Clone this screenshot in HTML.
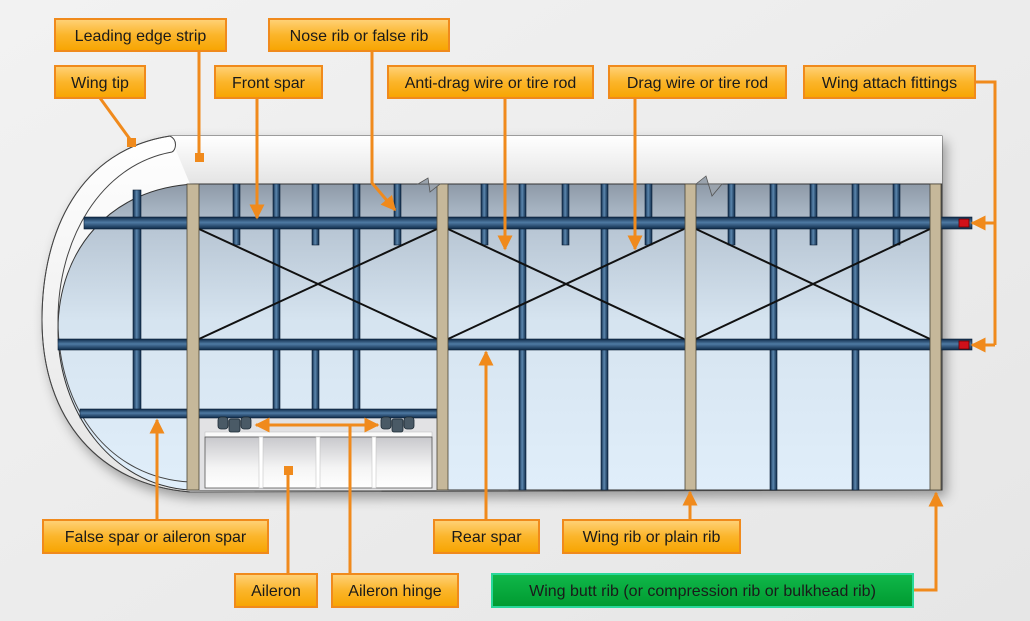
<!DOCTYPE html>
<html><head><meta charset="utf-8"><style>
html,body{margin:0;padding:0;background:#ececec;}
svg{display:block}
text{font-family:"Liberation Sans",Arial,sans-serif;font-size:16px;fill:#1a1a1a}
</style></head><body>
<svg width="1030" height="621" viewBox="0 0 1030 621" xmlns="http://www.w3.org/2000/svg">
<defs>
<linearGradient id="bg" x1="0" y1="0" x2="1" y2="1"><stop offset="0" stop-color="#f2f2f2"/><stop offset="1" stop-color="#e6e6e6"/></linearGradient>
<linearGradient id="sky" x1="0" y1="0" x2="0" y2="1"><stop offset="0" stop-color="#8e9aa8"/><stop offset="0.15" stop-color="#b8c6d4"/><stop offset="0.45" stop-color="#d6e4f0"/><stop offset="1" stop-color="#e0eefa"/></linearGradient>
<linearGradient id="skin" x1="0" y1="0" x2="0" y2="1"><stop offset="0" stop-color="#ffffff"/><stop offset="1" stop-color="#e4e4e4"/></linearGradient>
<linearGradient id="hsp" x1="0" y1="0" x2="0" y2="1"><stop offset="0" stop-color="#0e2a48"/><stop offset="0.45" stop-color="#4f7aa3"/><stop offset="1" stop-color="#0e2a48"/></linearGradient>
<linearGradient id="vsp" x1="0" y1="0" x2="1" y2="0"><stop offset="0" stop-color="#0e2a48"/><stop offset="0.45" stop-color="#5b86ae"/><stop offset="1" stop-color="#0e2a48"/></linearGradient>
<linearGradient id="ob" x1="0" y1="0" x2="0" y2="1"><stop offset="0" stop-color="#ffd27a"/><stop offset="0.5" stop-color="#fbb52a"/><stop offset="1" stop-color="#f7a400"/></linearGradient>
<linearGradient id="gb" x1="0" y1="0" x2="0" y2="1"><stop offset="0" stop-color="#10b84a"/><stop offset="1" stop-color="#009a30"/></linearGradient>
<linearGradient id="ail" x1="0" y1="0" x2="0" y2="1"><stop offset="0" stop-color="#c8c8cc"/><stop offset="0.6" stop-color="#f4f4f4"/><stop offset="1" stop-color="#ffffff"/></linearGradient>
<marker id="ar" viewBox="0 0 10 10" refX="9" refY="5" markerWidth="5" markerHeight="5" orient="auto"><path d="M0,0 L10,5 L0,10 z" fill="#f08a1c"/></marker>
<filter id="sh" x="-5%" y="-5%" width="115%" height="115%"><feGaussianBlur in="SourceAlpha" stdDeviation="6"/><feOffset dx="4" dy="6"/><feComponentTransfer><feFuncA type="linear" slope="0.35"/></feComponentTransfer><feMerge><feMergeNode/><feMergeNode in="SourceGraphic"/></feMerge></filter>
</defs>
<rect width="1030" height="621" fill="url(#bg)"/>

<!-- wing body -->
<g filter="url(#sh)">
<path d="M170,136 L942,136 L942,490 L190,492 C100,485 42,420 42,320 C42,230 80,150 170,136 Z" fill="url(#skin)" stroke="#555" stroke-width="1"/>
</g>
<path d="M170,136 L942,136 L942,184 L190,184 Z" fill="url(#skin)"/>
<path d="M195,184 L942,184 L942,490 L190,490 C110,485 58,410 58,330 C58,250 110,188 195,184 Z" fill="url(#sky)" stroke="#333" stroke-width="1"/>
<!-- tip strip lines -->
<path d="M170,136 C80,150 42,230 42,320 C42,420 100,485 190,492" fill="none" stroke="#444" stroke-width="1"/>
<path d="M172,152 C100,165 58,240 58,320 C58,410 110,478 190,482" fill="none" stroke="#444" stroke-width="1"/>
<path d="M170,136 C178,140 176,150 172,152" fill="none" stroke="#444" stroke-width="1"/>
<!-- aileron cutout area -->
<rect x="199" y="418" width="238" height="72" fill="#e2e2e4"/>

<!-- vertical blue ribs -->
<g fill="url(#vsp)" stroke="#0a1f36" stroke-width="0.6">
<rect x="133" y="190" width="8" height="222"/>
<rect x="233" y="184" width="7" height="61"/>
<rect x="273" y="184" width="7" height="230"/>
<rect x="312" y="184" width="7" height="61"/>
<rect x="312" y="350" width="7" height="62"/>
<rect x="353" y="184" width="7" height="230"/>
<rect x="394" y="184" width="7" height="61"/>
<rect x="481" y="184" width="7" height="61"/>
<rect x="519" y="184" width="7" height="306"/>
<rect x="562" y="184" width="7" height="61"/>
<rect x="601" y="184" width="7" height="306"/>
<rect x="645" y="184" width="7" height="61"/>
<rect x="728" y="184" width="7" height="61"/>
<rect x="770" y="184" width="7" height="306"/>
<rect x="810" y="184" width="7" height="61"/>
<rect x="852" y="184" width="7" height="306"/>
<rect x="893" y="184" width="7" height="61"/>
</g>
<!-- horizontal spars -->
<g fill="url(#hsp)" stroke="#0a1f36" stroke-width="0.6">
<rect x="84" y="217" width="888" height="12"/>
<rect x="58" y="339" width="914" height="11"/>
<rect x="80" y="409" width="357" height="9"/>
</g>
<rect x="959" y="219" width="10" height="8" fill="#d0101a" stroke="#600" stroke-width="0.8"/>
<rect x="959" y="341" width="10" height="8" fill="#d0101a" stroke="#600" stroke-width="0.8"/>
<!-- wires -->
<g stroke="#111" stroke-width="2">
<line x1="199" y1="229" x2="437" y2="339"/><line x1="199" y1="339" x2="437" y2="229"/>
<line x1="448" y1="229" x2="684" y2="339"/><line x1="448" y1="339" x2="684" y2="229"/>
<line x1="696" y1="229" x2="930" y2="339"/><line x1="696" y1="339" x2="930" y2="229"/>
</g>
<!-- tan ribs -->
<g fill="#c6b89a" stroke="#4a4436" stroke-width="0.8">
<rect x="187" y="184" width="12" height="306"/>
<rect x="437" y="184" width="11" height="306"/>
<rect x="685" y="184" width="11" height="306"/>
<rect x="930" y="184" width="11" height="306"/>
</g>
<!-- break notches -->
<path d="M418,184 L428,178 L430,192 L440,184 Z" fill="#9aa3ad" stroke="#555" stroke-width="0.8"/>
<path d="M696,184 L706,176 L712,196 L722,184 Z" fill="#9aa3ad" stroke="#555" stroke-width="0.8"/>

<!-- aileron -->
<rect x="205" y="432" width="227" height="5" fill="#fafafa" stroke="#bbb" stroke-width="0.5"/>
<rect x="205" y="437" width="227" height="51" fill="url(#ail)" stroke="#555" stroke-width="0.8"/>
<g fill="#fff" stroke="#bbb" stroke-width="0.5">
<rect x="259" y="437" width="4" height="51"/><rect x="316" y="437" width="4" height="51"/><rect x="372" y="437" width="4" height="51"/>
</g>
<g fill="#4a5a66" stroke="#1c2a34" stroke-width="0.8">
<rect x="218" y="417" width="10" height="12" rx="3"/><rect x="229" y="419" width="11" height="13" rx="2"/><rect x="241" y="417" width="10" height="12" rx="3"/>
<rect x="381" y="417" width="10" height="12" rx="3"/><rect x="392" y="419" width="11" height="13" rx="2"/><rect x="404" y="417" width="10" height="12" rx="3"/>
</g>

<!-- connectors -->
<g stroke="#f08a1c" stroke-width="3" fill="none">
<line x1="100" y1="98" x2="132" y2="142"/>
<line x1="199" y1="51" x2="199" y2="156"/>
<polyline points="372,51 372,183 395,210" marker-end="url(#ar)"/>
<line x1="257" y1="98" x2="257" y2="218" marker-end="url(#ar)"/>
<line x1="505" y1="98" x2="505" y2="249" marker-end="url(#ar)"/>
<line x1="635" y1="98" x2="635" y2="249" marker-end="url(#ar)"/>
<polyline points="975,82 995,82 995,345"/>
<line x1="995" y1="223" x2="972" y2="223" marker-end="url(#ar)"/>
<line x1="995" y1="345" x2="972" y2="345" marker-end="url(#ar)"/>
<line x1="157" y1="519" x2="157" y2="420" marker-end="url(#ar)"/>
<line x1="486" y1="519" x2="486" y2="352" marker-end="url(#ar)"/>
<line x1="690" y1="519" x2="690" y2="492" marker-end="url(#ar)"/>
<line x1="288" y1="573" x2="288" y2="472"/>
<line x1="350" y1="573" x2="350" y2="425"/>
<line x1="350" y1="425" x2="256" y2="425" marker-end="url(#ar)"/>
<line x1="350" y1="425" x2="378" y2="425" marker-end="url(#ar)"/>
<polyline points="913,590 936,590 936,493" marker-end="url(#ar)"/>
</g>
<g fill="#f08a1c">
<rect x="127" y="138" width="9" height="9"/>
<rect x="195" y="153" width="9" height="9"/>
<rect x="284" y="466" width="9" height="9"/>
</g>

<!-- labels -->
<g stroke="#f08a1c" stroke-width="2" fill="url(#ob)">
<rect x="55" y="19" width="171" height="32"/>
<rect x="55" y="66" width="90" height="32"/>
<rect x="269" y="19" width="180" height="32"/>
<rect x="215" y="66" width="107" height="32"/>
<rect x="388" y="66" width="205" height="32"/>
<rect x="609" y="66" width="177" height="32"/>
<rect x="804" y="66" width="171" height="32"/>
<rect x="43" y="520" width="225" height="33"/>
<rect x="434" y="520" width="105" height="33"/>
<rect x="563" y="520" width="177" height="33"/>
<rect x="235" y="574" width="82" height="33"/>
<rect x="332" y="574" width="126" height="33"/>
</g>
<rect x="492" y="574" width="421" height="33" fill="url(#gb)" stroke="#29d89a" stroke-width="2"/>
<g text-anchor="middle">
<text x="140.5" y="41">Leading edge strip</text>
<text x="100" y="88">Wing tip</text>
<text x="359" y="41">Nose rib or false rib</text>
<text x="268.5" y="88">Front spar</text>
<text x="490.5" y="88">Anti-drag wire or tire rod</text>
<text x="697.5" y="88">Drag wire or tire rod</text>
<text x="889.5" y="88">Wing attach fittings</text>
<text x="155.5" y="542">False spar or aileron spar</text>
<text x="486.5" y="542">Rear spar</text>
<text x="651.5" y="542">Wing rib or plain rib</text>
<text x="276" y="596">Aileron</text>
<text x="395" y="596">Aileron hinge</text>
<text x="702.5" y="596">Wing butt rib (or compression rib or bulkhead rib)</text>
</g>
</svg>
</body></html>
